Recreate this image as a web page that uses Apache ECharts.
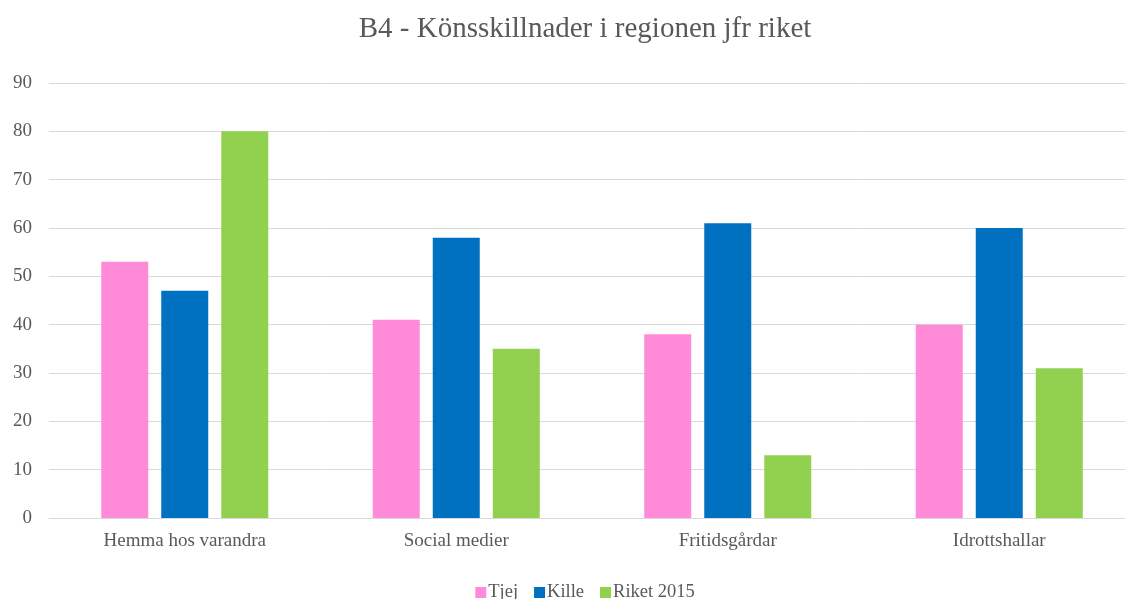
<!DOCTYPE html>
<html>
<head>
<meta charset="utf-8">
<script src="https://cdn.jsdelivr.net/npm/echarts@6/dist/echarts.min.js"></script>
<style>
  html, body { margin: 0; padding: 0; background: #fff; overflow: hidden; }
  #main { width: 1170px; height: 599px; }
</style>
</head>
<body>
<div id="main"></div>
<script>
var categories = ['Hemma hos varandra', 'Social medier', 'Fritidsgårdar', 'Idrottshallar'];
var tjej = [53, 41, 38, 40];
var kille = [47, 58, 61, 60];
var riket = [80, 35, 13, 31];

var myChart = echarts.init(document.getElementById('main'));
var font = 'Liberation Serif';
var option = {
  animation: false,
  textStyle: { fontFamily: font },
  title: {
    text: 'B4 - Könsskillnader i regionen jfr riket',
    left: 'center',
    top: 10,
    textStyle: { fontFamily: font, fontSize: 29, fontWeight: 'normal', color: '#595959' }
  },
  legend: {
    bottom: -8,
    left: 'center',
    itemWidth: 11,
    itemHeight: 11,
    itemGap: 16,
    icon: 'rect',
    textStyle: { fontFamily: font, fontSize: 18.5, color: '#595959', padding: [0, 0, 0, -3] },
    data: ['Tjej', 'Kille', 'Riket 2015']
  },
  grid: { left: 49, top: 83, right: 35, height: 435 },
  xAxis: {
    type: 'category',
    data: categories,
    axisLine: { lineStyle: { color: '#d9d9d9', width: 1 } },
    axisTick: { show: false },
    axisLabel: { color: '#595959', fontSize: 19, fontFamily: font, margin: 14 }
  },
  yAxis: {
    type: 'value',
    min: 0,
    max: 90,
    interval: 10,
    axisLine: { show: false },
    axisTick: { show: false },
    axisLabel: { color: '#595959', fontSize: 19, fontFamily: font, margin: 17 },
    splitLine: { lineStyle: { color: '#d9d9d9', width: 1 } }
  },
  series: [
    { name: 'Tjej', type: 'bar', data: tjej, barWidth: 47, barGap: '27.7%', itemStyle: { color: '#FF8AD8' } },
    { name: 'Kille', type: 'bar', data: kille, barWidth: 47, barGap: '27.7%', itemStyle: { color: '#0070C0' } },
    { name: 'Riket 2015', type: 'bar', data: riket, barWidth: 47, barGap: '27.7%', itemStyle: { color: '#92D050' } }
  ]
};
myChart.setOption(option);
</script>
</body>
</html>
